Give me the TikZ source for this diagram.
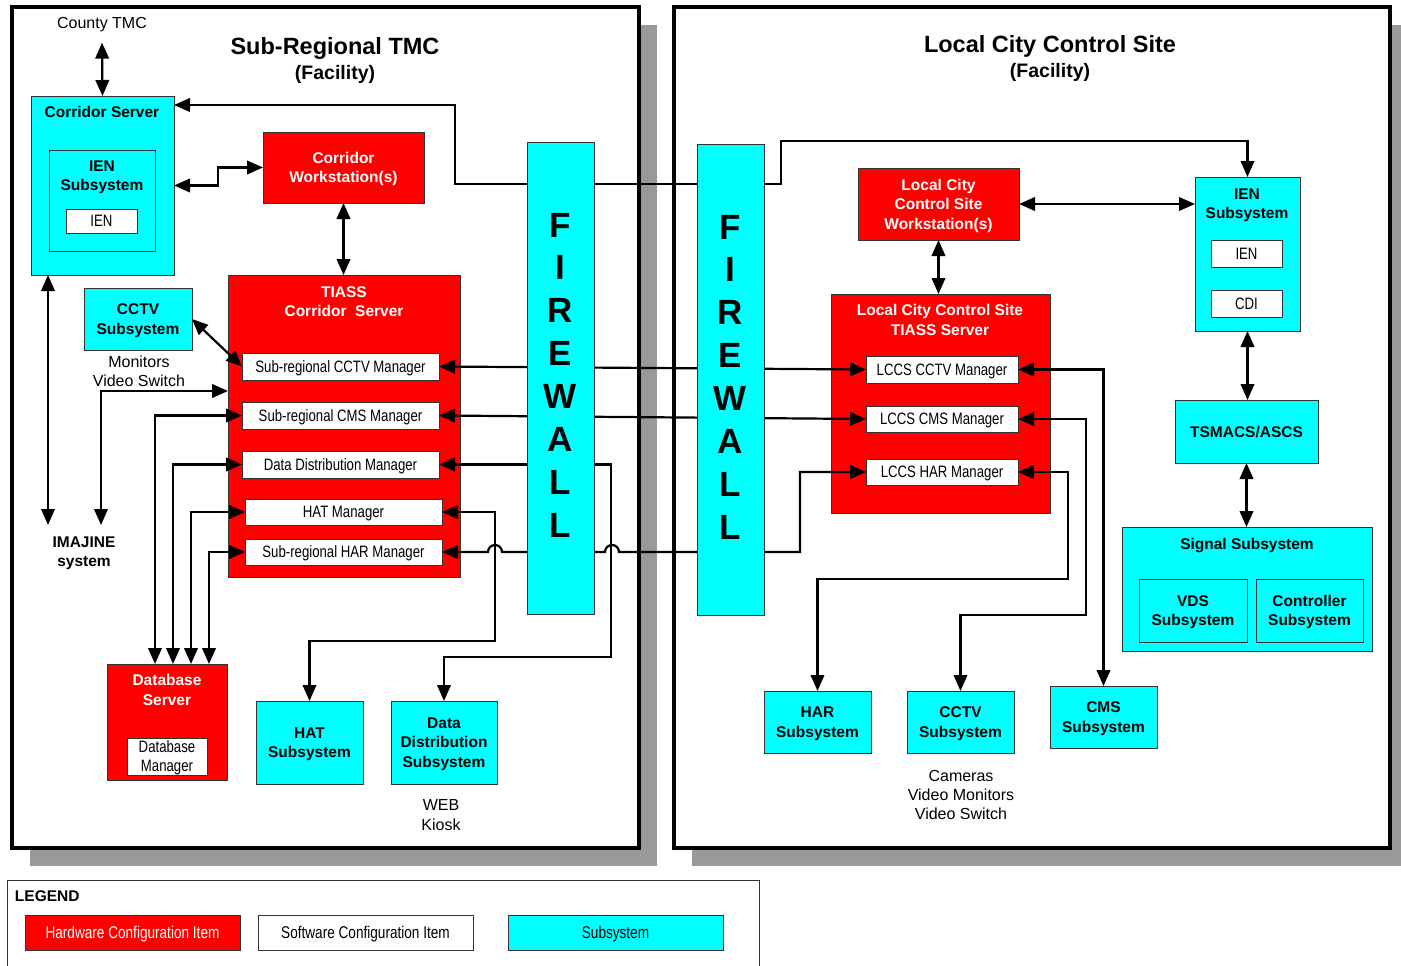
\documentclass[tikz,border=0pt]{standalone}
\usepackage{fontspec}
\setmainfont{Liberation Sans}
\newfontfamily\narfont[FakeStretch=0.8]{Liberation Sans}
\usetikzlibrary{arrows.meta,calc}
\definecolor{hwred}{HTML}{FF0000}
\definecolor{sscyan}{HTML}{00FFFF}
\definecolor{shd}{HTML}{999999}
\definecolor{edgec}{HTML}{333333}
\tikzset{
  bt/.style={font=\fontsize{15.5}{19.5}\selectfont\bfseries, align=center},
  rt/.style={font=\fontsize{16}{19.2}\selectfont, align=center},
  nt/.style={font=\narfont\fontsize{16.5}{19}\selectfont, align=center},
  ttl/.style={font=\fontsize{23.5}{26}\selectfont\bfseries},
  subttl/.style={font=\fontsize{19.5}{22}\selectfont\bfseries},
  sz/.style 2 args={minimum width=#1pt, minimum height=#2pt},
  hwbox/.style={draw=edgec, line width=0.9pt, fill=hwred, text=white, bt},
  ssbox/.style={draw=edgec, line width=0.9pt, fill=sscyan, bt},
  swbox/.style={draw=edgec, line width=0.9pt, fill=white, nt},
  fwbox/.style={draw=edgec, line width=0.9pt, fill=sscyan},
  fwtext/.style={font=\fontsize{35}{42.86}\selectfont\bfseries, align=center},
  conn/.style={line width=2.2pt, {Triangle[length=16pt,width=13.5pt]}-{Triangle[length=16pt,width=13.5pt]}},
  facility/.style={draw=black, line width=4pt, fill=white},
  shadowbox/.style={fill=shd},
}
\begin{document}
\begin{tikzpicture}[x=1pt,y=-1pt, every node/.style={inner sep=0pt, outer sep=0pt, text depth=0pt}]
\useasboundingbox (0,0) rectangle (1401,966);
% facilities with shadows
\fill[shadowbox] (30,25) rectangle (657,866);
\fill[shadowbox] (692,25) rectangle (1410,866);
\path[facility] (12,7) rectangle (639,848);
\path[facility] (674,7) rectangle (1390,848);
% titles
\node[ttl] (t1) at (335,46) {Sub-Regional TMC};
\node[subttl] (t1b) at (335,72) {(Facility)};
\node[ttl] (t2) at (1050,44) {Local City Control Site};
\node[subttl] (t2b) at (1050,70) {(Facility)};
% legend
\draw[edgec, line width=0.9pt] (7,880) rectangle (759,980);
\node[bt, anchor=west] (lgt) at (15,896) {LEGEND};
\node[hwbox, sz={215}{35}, nt, text=white, font=\narfont\fontsize{17}{19}\selectfont] (lg1) at (132.5,932.5) {Hardware Configuration Item};
\node[swbox, sz={215}{35}, font=\narfont\fontsize{17}{19}\selectfont] (lg2) at (365.5,932.5) {Software Configuration Item};
\node[ssbox, sz={215}{35}, nt, font=\narfont\fontsize{17}{19}\selectfont] (lg3) at (615.5,932.5) {Subsystem};
% left side
\node[rt] (ctmc) at (102,23) {County TMC};
\node[ssbox, sz={143}{179}] (cs) at (102.5,185.5) {};
\node[bt] (cst) at (102,112) {Corridor Server};
\node[ssbox, sz={106}{101}] (iens) at (102,200.5) {};
\node[bt] (ienst) at (102,175.5) {IEN\\Subsystem};
\node[swbox, sz={71}{24}] (ien1) at (101.5,221) {IEN};
\node[hwbox, sz={161}{71}] (cw) at (343.5,167.5) {Corridor\\Workstation(s)};
\node[hwbox, sz={232}{302}] (ts) at (344,426) {};
\node[bt, text=white] (tst) at (344,301.5) {TIASS\\Corridor\ \ Server};
\node[swbox, sz={197}{27}] (m1) at (340.5,366.5) {Sub-regional CCTV Manager};
\node[swbox, sz={197}{27}] (m2) at (340.5,415.5) {Sub-regional CMS Manager};
\node[swbox, sz={197}{27}] (m3) at (340.5,464.5) {Data Distribution Manager};
\node[swbox, sz={197}{26}] (m4) at (343.5,512) {HAT Manager};
\node[swbox, sz={197}{26}] (m5) at (343.5,552) {Sub-regional HAR Manager};
\node[ssbox, sz={108}{62}] (cctv1) at (138,319) {CCTV\\Subsystem};
\node[rt] (mon) at (139,371.5) {Monitors\\Video Switch};
\node[bt] (im) at (84,551.5) {IMAJINE\\system};
\coordinate (imA) at (48,525);
\coordinate (imB) at (101,525);
\node[hwbox, sz={120}{116}] (db) at (167,722) {};
\node[bt, text=white] (dbt) at (167,690) {Database\\Server};
\node[swbox, sz={80}{37}] (dbm) at (167,756.5) {Database\\Manager};
\node[ssbox, sz={107}{83}] (hat) at (309.5,742.5) {HAT\\Subsystem};
\node[ssbox, sz={106}{83}] (dds) at (444,742.5) {Data\\Distribution\\Subsystem};
\node[rt] (web) at (441,815) {WEB\\Kiosk};
% right side
\node[hwbox, sz={161}{72}] (lw) at (938.5,204) {Local City\\Control Site\\Workstation(s)};
\node[hwbox, sz={219}{219}] (lt) at (940.5,403.5) {};
\node[bt, text=white] (ltt) at (940,320) {Local City Control Site\\TIASS Server};
\node[swbox, sz={152}{27}] (lm1) at (942,369.5) {LCCS CCTV Manager};
\node[swbox, sz={152}{26}] (lm2) at (942,419) {LCCS CMS Manager};
\node[swbox, sz={152}{26}] (lm3) at (942,472) {LCCS HAR Manager};
\node[ssbox, sz={105}{154}] (ien2) at (1247.5,254) {};
\node[bt] (ien2t) at (1247,203.5) {IEN\\Subsystem};
\node[swbox, sz={71}{27}] (ien2a) at (1246.5,253.5) {IEN};
\node[swbox, sz={71}{27}] (cdi) at (1246.5,303.5) {CDI};
\node[ssbox, sz={143}{63}] (tsm) at (1246.5,431.5) {TSMACS/ASCS};
\node[ssbox, sz={250}{124}] (sig) at (1247,589) {};
\node[bt] (sigt) at (1247,544) {Signal Subsystem};
\node[ssbox, sz={108}{63}] (vds) at (1193,610.5) {VDS\\Subsystem};
\node[ssbox, sz={107}{63}] (ctl) at (1309.5,610.5) {Controller\\Subsystem};
\node[ssbox, sz={107}{62}] (har) at (817.5,722) {HAR\\Subsystem};
\node[ssbox, sz={107}{62}] (cctv2) at (960.5,722) {CCTV\\Subsystem};
\node[ssbox, sz={107}{62}] (cms) at (1103.5,717) {CMS\\Subsystem};
\node[rt] (cam) at (961,795) {Cameras\\Video Monitors\\Video Switch};
% connectors
\draw[conn] ($(ctmc.south)+(0,14)$) -- (cs.north);
\draw[conn] ($(cs.north east)+(0,9)$) -- (455,105) -- (455,184) -- (781,184) -- (781,141) -- (ien2.north |- 0,141) -- (ien2.north);
\draw[conn] (cs.east) -- ++(44,0) |- (cw.west);
\draw[conn] (cw.south) -- (cw.south |- ts.north);
\draw[conn] ($(cs.south west)+(17,0)$) -- (imA);
\draw[conn] (cctv1.east) -- (m1.west);
\draw[conn] (imB) |- ($(ts.north west)+(0,116)$);
\draw[conn] ($(db.north west)+(48,0)$) |- (m2.west);
\draw[conn] ($(db.north west)+(66,0)$) |- (m3.west);
\draw[conn] ($(db.north west)+(84,0)$) |- (m4.west);
\draw[conn] ($(db.north west)+(102,0)$) |- (m5.west);
\draw[conn] (m1.east) -- (lm1.west);
\draw[conn] (m2.east) -- (lm2.west);
\draw[conn] (m3.east) -- ++(172,0) |- ($(dds.north)+(0,-44)$) -- (dds.north);
\draw[conn] (m4.east) -- ++(53,0) |- ($(hat.north)+(0,-60)$) -- (hat.north);
\draw[conn] (m5.east) -- (488,552) arc[start angle=180, end angle=0, radius=7pt] -- (605,552) arc[start angle=180, end angle=0, radius=7pt] -- (800,552) |- (lm3.west);
\draw[conn] (lm1.east) -| (cms.north);
\draw[conn] (lm2.east) -- ++(68,0) |- ($(cctv2.north)+(0,-76)$) -- (cctv2.north);
\draw[conn] (lm3.east) -- ++(50,0) |- ($(har.north)+(0,-112)$) -- (har.north);
\draw[conn] (lw.east) -- (lw.east -| ien2.west);
\draw[conn] (lw.south) -- (lw.south |- lt.north);
\draw[conn] (ien2.south) -- (ien2.south |- tsm.north);
\draw[conn] (tsm.south) -- (tsm.south |- sig.north);
% firewalls on top
\node[fwbox, sz={67}{472}] (fw1) at (560.5,378) {};
\node[fwtext] (fw1t) at (560.5,375) {F\\I\\R\\E\\W\\A\\L\\L};
\node[fwbox, sz={67}{471}] (fw2) at (730.5,379.5) {};
\node[fwtext] (fw2t) at (730.5,377) {F\\I\\R\\E\\W\\A\\L\\L};
\end{tikzpicture}
\end{document}
